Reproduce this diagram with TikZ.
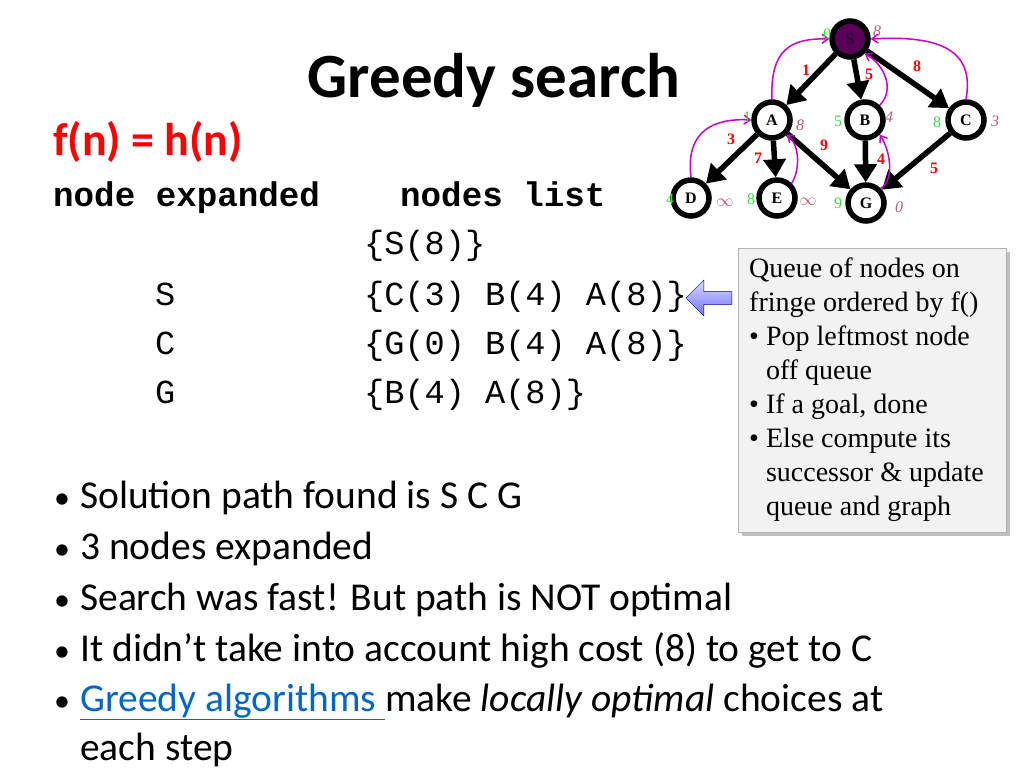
\documentclass[tikz,border=0pt]{standalone}
\usepackage{fontspec}
\setmainfont{Carlito}
\newfontfamily\tms{Liberation Serif}
\newfontfamily\mon{Liberation Mono}
\usetikzlibrary{arrows.meta,shapes.arrows}
\definecolor{lnk}{RGB}{0,102,204}
\definecolor{gv}{RGB}{60,220,60}
\definecolor{hv}{RGB}{190,90,110}
\definecolor{mag}{RGB}{200,0,200}
\tikzset{
 gn/.style={circle,draw=black,line width=5.5pt,fill=white,minimum size=36pt,inner sep=0pt,font=\tms\fontsize{16}{16}\selectfont\bfseries},
 ed/.style={line width=5.5pt,-{Triangle[length=18pt,width=22pt]}},
 bk/.style={mag,line width=1.5pt,-{Straight Barb[length=6pt,width=9pt]}},
 wl/.style={text=red,font=\tms\fontsize{16}{16}\selectfont\bfseries},
 gl/.style={text=gv,font=\tms\fontsize{16}{16}\selectfont},
 hl/.style={text=hv,font=\tms\fontsize{16}{16}\selectfont\itshape},
 mt/.style={anchor=base west,inner sep=0pt,font=\mon\fontsize{33.6}{33.6}\selectfont},
 bl/.style={anchor=base west,inner sep=0pt,font=\fontsize{39.5}{39.5}\selectfont},
}
\begin{document}
\begin{tikzpicture}[x=1pt,y=-1pt]
\useasboundingbox (0,0) rectangle (1024,768);
\node[inner sep=0pt,font=\fontsize{63}{63}\selectfont\bfseries] (title) at (494,80) {Greedy search};
\node[anchor=base west,inner sep=0pt,text=red,font=\fontsize{46}{46}\selectfont\bfseries] (fn) at (53,155) {f(n) = h(n)};
\node[mt,font=\mon\fontsize{34.2}{34.2}\selectfont\bfseries] (h1) at (53,206) {node expanded};
\node[mt,font=\mon\fontsize{34.2}{34.2}\selectfont\bfseries] (h2) at (400,206) {nodes list};
\node[mt] (l0) at (364,254) {\{S(8)\}};
\node[mt] (e1) at (155,305) {S};
\node[mt] (l1) at (364,305) {\{C(3) B(4) A(8)\}};
\node[mt] (e2) at (155,354) {C};
\node[mt] (l2) at (364,354) {\{G(0) B(4) A(8)\}};
\node[mt] (e3) at (155,403) {G};
\node[mt] (l3) at (364,403) {\{B(4) A(8)\}};
% queue box
\fill[black!25] (742,252) rectangle (1010,536);
\node[draw=black!30,fill=black!5,minimum width=268pt,minimum height=284pt,anchor=north west,inner sep=0pt] (qb) at (738,248) {};
\node[anchor=north west,inner sep=0pt,align=left,font=\tms\fontsize{28}{34}\selectfont] (qt) at (749,258) {Queue of nodes on\\fringe ordered by f()\\%
\textbullet\ Pop leftmost node\\\phantom{\textbullet\ }off queue\\\textbullet\ If a goal, done\\\textbullet\ Else compute its\\\phantom{\textbullet\ }successor \& update\\\phantom{\textbullet\ }queue and graph};
\node[single arrow,shape border rotate=180,draw=blue!60!black,top color=blue!15,bottom color=blue!55,minimum height=46pt,minimum width=36pt,single arrow head extend=4pt,inner sep=2pt] (qa) at (712,298) {};
% bullets
\foreach \y/\t [count=\i] in {497/{Solution path found is S C G},548/{3 nodes expanded},599/{Search was fast! But path is NOT optimal},650/{It didn’t take into account high cost (8) to get to C}}{
 \node[bl,font=\fontsize{32}{32}\selectfont] (bd\i) at (54,\y+11) {•};
 \node[bl] (bt\i) at (80,\y+11) {\t};
}
\node[bl,font=\fontsize{32}{32}\selectfont] (bd5) at (54,711) {•};
\node[bl] (bt5) at (80,711) {\textcolor{lnk}{\underline{Greedy algorithms\ }}make \textit{locally optimal} choices at};
\node[bl] (bt6) at (80,760) {each step};
% graph
\node[gn,fill=violet!70!black,text=violet!40!black] (S) at (850,39) {S};
\node[gn] (A) at (772,120) {A};
\node[gn] (B) at (865,120) {B};
\node[gn] (C) at (966,120) {C};
\node[gn] (D) at (691,198) {D};
\node[gn] (E) at (777,198) {E};
\node[gn] (G) at (866,203) {G};
\draw[ed] (S) -- (A);
\draw[ed] (S) -- (B);
\draw[ed] (S) -- (C);
\draw[ed] (A) -- (D);
\draw[ed] (A) -- (E);
\draw[ed] (A) -- (G);
\draw[ed] (B) -- (G);
\draw[ed] (C) -- (G);
\draw[bk] (A.north) .. controls (770,50) and (790,38) .. (S.west);
\draw[bk] (B.north east) .. controls (895,90) and (885,65) .. (S.south east);
\draw[bk] (C.north) .. controls (975,50) and (940,35) .. (S.east);
\draw[bk] (D.north) .. controls (685,130) and (715,118) .. (A.west);
\draw[bk] (E.north east) .. controls (800,170) and (800,145) .. (A.south east);
\draw[bk] (G.north east) .. controls (895,180) and (890,150) .. (B.south east);
\node[wl] (w1) at (806,70) {1};
\node[wl] (w2) at (869,74) {5};
\node[wl] (w3) at (917,66) {8};
\node[wl] (w4) at (731,139) {3};
\node[wl] (w5) at (758,158) {7};
\node[wl] (w6) at (824,145) {9};
\node[wl] (w7) at (881,159) {4};
\node[wl] (w8) at (934,168) {5};
\node[gl] (g1) at (827,34) {0};
\node[gl] (g2) at (747,117) {1};
\node[gl] (g3) at (838,121) {5};
\node[gl] (g4) at (937,122) {8};
\node[gl] (g5) at (670,199) {4};
\node[gl] (g6) at (751,199) {8};
\node[gl] (g7) at (838,203) {9};
\node[hl] (h1) at (877,31) {8};
\node[hl] (h2) at (800,125) {8};
\node[hl] (h3) at (889,117) {4};
\node[hl] (h4) at (995,121) {3};
\node[hl] (h5) at (725,203) {$\infty$};
\node[hl] (h6) at (808,202) {$\infty$};
\node[hl] (h7) at (899,207) {0};
\end{tikzpicture}
\end{document}
